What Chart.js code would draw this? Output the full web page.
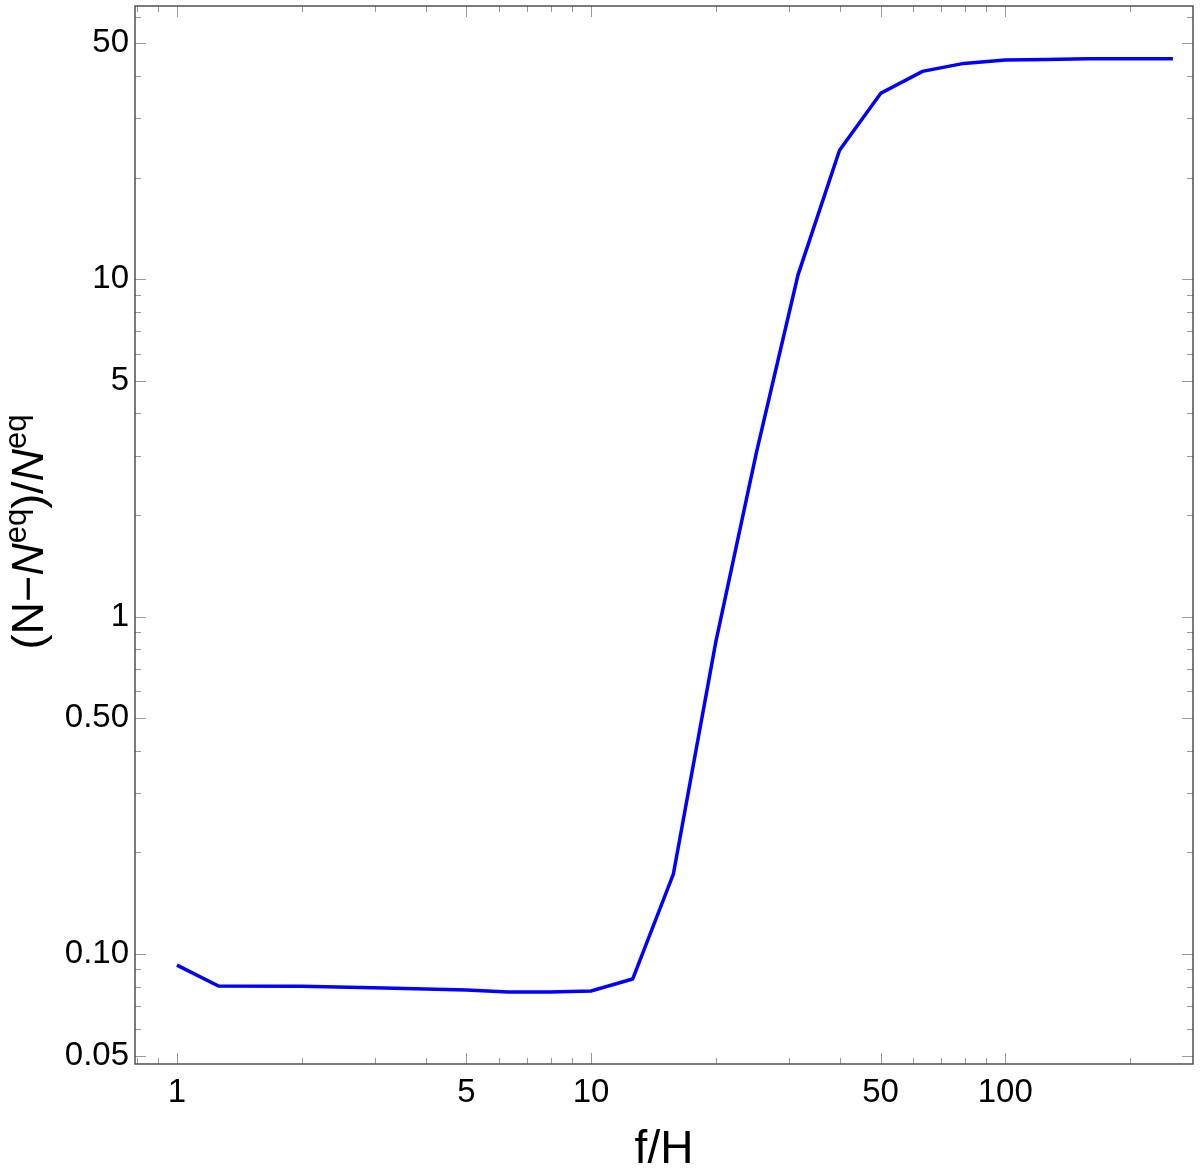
<!DOCTYPE html>
<html lang="en">
<head>
  <meta charset="UTF-8">
  <title>(N-Neq)/Neq vs f/H</title>
  <script src="https://cdn.jsdelivr.net/npm/chart.js@4.4.1/dist/chart.umd.min.js"></script>
  <style>
    html, body { margin: 0; padding: 0; background: #fff; }
    #wrap { width: 1200px; height: 1173px; }
  </style>
</head>
<body>
  <div id="wrap"><canvas id="plot"></canvas></div>

  <script>
    // f/H values and (N - N^eq)/N^eq
    const fOverH = [1, 1.26, 2, 3.16, 5, 6.31, 7.94, 10, 12.6, 15.8, 20, 25.1, 31.6, 39.8, 50.1, 63.1, 79.4, 100, 126, 158, 200, 254];
    const ratio  = [0.0927, 0.0804, 0.0802, 0.0793, 0.0782, 0.0772, 0.0772, 0.0777, 0.0843, 0.1725, 0.84, 3.08, 10.3, 24.1, 35.6, 41.3, 43.6, 44.6, 44.8, 45.0, 45.0, 45.0];

    const xTickVals   = [1, 5, 10, 50, 100];
    const xTickLabels = ['1', '5', '10', '50', '100'];
    const yTickVals   = [0.05, 0.1, 0.5, 1, 5, 10, 50];
    const yTickLabels = ['0.05', '0.10', '0.50', '1', '5', '10', '50'];

    const FONT = '"Liberation Sans", Arial, sans-serif';

    // every 1..9 multiple per decade, used for the small ticks
    function decadeTicks(lo, hi) {
      const out = [];
      for (let e = -3; e <= 3; e++) {
        for (let m = 1; m <= 9; m++) {
          const v = +(m * Math.pow(10, e)).toPrecision(6);
          if (v >= lo && v <= hi) out.push(v);
        }
      }
      return out;
    }

    function isMajor(list, v) {
      return list.some(m => Math.abs(m - v) / m < 1e-6);
    }

    const frameAndTicks = {
      id: 'frameAndTicks',
      afterDraw(chart) {
        const { ctx, chartArea: a, scales } = chart;
        ctx.save();
        ctx.strokeStyle = '#999';
        ctx.lineWidth = 1;
        decadeTicks(scales.x.min, scales.x.max).forEach(v => {
          const px = Math.round(scales.x.getPixelForValue(v)) + 0.5;
          const len = isMajor(xTickVals, v) ? 11 : 6;
          ctx.beginPath();
          ctx.moveTo(px, a.bottom); ctx.lineTo(px, a.bottom - len);
          ctx.moveTo(px, a.top); ctx.lineTo(px, a.top + len);
          ctx.stroke();
        });
        decadeTicks(scales.y.min, scales.y.max).forEach(v => {
          const py = Math.round(scales.y.getPixelForValue(v)) + 0.5;
          const len = isMajor(yTickVals, v) ? 11 : 6;
          ctx.beginPath();
          ctx.moveTo(a.left, py); ctx.lineTo(a.left + len, py);
          ctx.moveTo(a.right, py); ctx.lineTo(a.right - len, py);
          ctx.stroke();
        });
        ctx.strokeStyle = '#444';
        ctx.lineWidth = 1.4;
        ctx.strokeRect(a.left, a.top, a.right - a.left, a.bottom - a.top);

        // axis titles
        ctx.fillStyle = '#000';
        ctx.textBaseline = 'alphabetic';
        ctx.textAlign = 'center';
        ctx.font = '46px ' + FONT;
        ctx.fillText('f/H', (a.left + a.right) / 2, 1163);

        // y title with superscripts
        const parts = [
          { t: '(N\u2212', f: '45px ' + FONT, dy: 0 },
          { t: 'N', f: 'italic 45px ' + FONT, dy: 0 },
          { t: 'eq', f: '31px ' + FONT, dy: -17 },
          { t: ')/', f: '45px ' + FONT, dy: 0 },
          { t: 'N', f: 'italic 45px ' + FONT, dy: 0 },
          { t: 'eq', f: '31px ' + FONT, dy: -17 }
        ];
        ctx.textAlign = 'left';
        let total = 0;
        parts.forEach(p => { ctx.font = p.f; p.w = ctx.measureText(p.t).width; total += p.w; });
        ctx.translate(43, 532);
        ctx.rotate(-Math.PI / 2);
        let cx = -total / 2;
        parts.forEach(p => {
          ctx.font = p.f;
          ctx.fillText(p.t, cx, p.dy);
          cx += p.w;
        });
        ctx.restore();
      }
    };

    new Chart(document.getElementById('plot'), {
      type: 'line',
      data: {
        datasets: [{
          data: fOverH.map((x, i) => ({ x: x, y: ratio[i] })),
          borderColor: '#0000ff',
          borderWidth: 3.5,
          pointRadius: 0,
          tension: 0,
          fill: false
        }]
      },
      options: {
        responsive: true,
        maintainAspectRatio: false,
        animation: false,
        layout: { padding: { top: 6, right: 7, left: 0, bottom: 0 } },
        plugins: { legend: { display: false }, tooltip: { enabled: false } },
        scales: {
          x: {
            type: 'logarithmic',
            min: 0.792,
            max: 284,
            grid: { display: false },
            border: { display: false },
            afterBuildTicks: s => { s.ticks = xTickVals.map(v => ({ value: v })); },
            afterFit: s => { s.height = 109; s.paddingLeft = 0; s.paddingRight = 0; },
            ticks: {
              autoSkip: false,
              maxRotation: 0,
              padding: 1,
              color: '#000',
              font: { family: FONT, size: 33 },
              callback: v => {
                const i = xTickVals.findIndex(m => Math.abs(m - v) / m < 1e-6);
                return i >= 0 ? xTickLabels[i] : '';
              }
            }
          },
          y: {
            type: 'logarithmic',
            min: 0.0472,
            max: 64.5,
            grid: { display: false },
            border: { display: false },
            afterBuildTicks: s => { s.ticks = yTickVals.map(v => ({ value: v })); },
            afterFit: s => { s.width = 135; s.paddingTop = 0; s.paddingBottom = 0; },
            ticks: {
              autoSkip: false,
              padding: -2,
              color: '#000',
              font: { family: FONT, size: 33 },
              callback: v => {
                const i = yTickVals.findIndex(m => Math.abs(m - v) / m < 1e-6);
                return i >= 0 ? yTickLabels[i] : '';
              }
            }
          }
        }
      },
      plugins: [frameAndTicks]
    });
  </script>
</body>
</html>
